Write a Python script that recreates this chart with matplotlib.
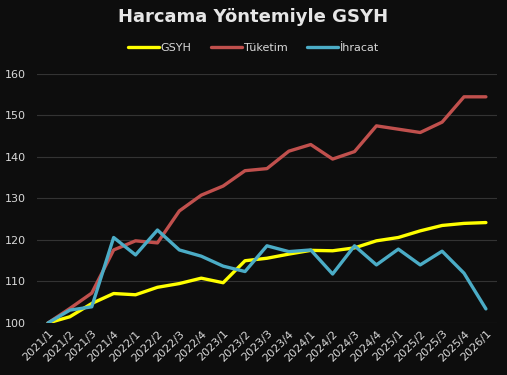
import matplotlib.pyplot as plt

# Çeyrekler
donemler = ['2021/1', '2021/2', '2021/3', '2021/4', '2022/1', '2022/2', '2022/3',
            '2022/4', '2023/1', '2023/2', '2023/3', '2023/4', '2024/1', '2024/2',
            '2024/3', '2024/4', '2025/1', '2025/2', '2025/3', '2025/4', '2026/1']

gsyh = [100, 101.5, 104.7, 107.1, 106.8, 108.6, 109.5, 110.8, 109.7, 115.0, 115.6,
        116.6, 117.5, 117.4, 118.1, 119.8, 120.6, 122.2, 123.5, 124.0, 124.2]
tuketim = [100, 103.5, 107.2, 117.6, 119.8, 119.3, 127.0, 130.8, 133.0, 136.7, 137.2,
           141.4, 143.0, 139.5, 141.3, 147.5, 146.7, 145.9, 148.4, 154.5, 154.5]
ihracat = [100, 103.1, 103.9, 120.6, 116.4, 122.4, 117.6, 116.1, 113.7, 112.4, 118.6,
           117.2, 117.6, 111.8, 118.6, 114.0, 117.8, 114.0, 117.3, 112.0, 103.4]

arka = '#0d0d0d'
yazi = '#d9d9d9'

fig = plt.figure(figsize=(5.07, 3.75), dpi=100, facecolor=arka)
ax = fig.add_axes([0.073, 0.1387, 0.907, 0.664], facecolor=arka)

x = range(len(donemler))
ax.plot(x, gsyh, color='#ffff00', lw=2.4, label='GSYH', solid_capstyle='round')
ax.plot(x, tuketim, color='#c0504d', lw=2.4, label='Tüketim', solid_capstyle='round')
ax.plot(x, ihracat, color='#4bacc6', lw=2.4, label='İhracat', solid_capstyle='round')

ax.set_xlim(-0.5, len(donemler) - 0.5)
ax.set_ylim(100, 160)
ax.set_yticks(range(100, 161, 10))
ax.set_xticks(list(x))
ax.set_xticklabels(donemler, rotation=45, ha='right', rotation_mode='anchor')
ax.tick_params(colors=yazi, labelsize=8, length=0, pad=4)
ax.tick_params(axis='y', pad=8)
ax.grid(axis='y', color='#333333', lw=0.8)
ax.set_axisbelow(True)
for s in ax.spines.values():
    s.set_visible(False)

fig.text(0.5, 0.955, 'Harcama Yöntemiyle GSYH', ha='center', va='center',
         color='#e6e6e6', fontsize=13, fontweight='bold')

ax.legend(loc='center', bbox_to_anchor=(0.5, 0.872), bbox_transform=fig.transFigure,
          ncol=3, frameon=False, fontsize=8, labelcolor=yazi, handlelength=2.8,
          handletextpad=0.1, columnspacing=1.8)

fig.savefig('out.png', dpi=100, facecolor=arka)
